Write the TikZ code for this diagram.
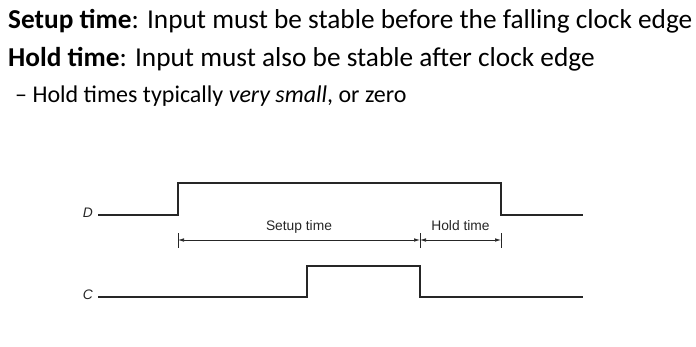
\documentclass[tikz,border=0pt]{standalone}
\usepackage{fontspec}
\setmainfont{Carlito}
\newfontfamily\figfont{Liberation Sans}
\usetikzlibrary{arrows.meta}

\tikzset{
  line/.style={font=\fontsize{27.3}{30}\selectfont, anchor=base west, inner sep=0pt},
  wave/.style={line width=1.4pt, draw=black!85},
  dim/.style={line width=0.6pt, draw=black!85},
  lbl/.style={font=\figfont\fontsize{13.8}{16}\selectfont, text=black!85, inner sep=1pt,
    text height=10pt, text depth=3pt},
}

\begin{document}
\begin{tikzpicture}[x=1pt, y=-1pt, >={Latex[length=6pt,width=3.5pt]}]
  \useasboundingbox (0,0) rectangle (696,346);

  % text above the timing diagram
  \node[line] (setup) at (8,28) {\textbf{Setup time}: Input must be stable before the falling clock edge};
  \node[line] (hold) at (8,66) {\textbf{Hold time}: Input must also be stable after clock edge};
  \node[line, font=\fontsize{24}{27}\selectfont] (note) at (15,102) {-- Hold times typically \textit{very small}, or zero};

  % data input
  \node[lbl, anchor=east] (D) at (94,214) {\textit{D}};
  \draw[wave] (D.east) ++(4,1) -- (178,215) -- (178,183) -- (501,183) -- (501,215) -- (583,215);

  % clock
  \node[lbl, anchor=east] (C) at (94,296) {\textit{C}};
  \draw[wave] (C.east) ++(4,1) -- (307,297) -- (307,266) -- (420,266) -- (420,297) -- (583,297);

  % setup and hold markers
  \coordinate (t0) at (178,240);
  \coordinate (t1) at (420,240);
  \coordinate (t2) at (501,240);
  \foreach \t in {t0,t1,t2}
    \draw[dim] (\t) ++(0,-7) -- ++(0,15);
  \draw[dim, <->] (t0) -- node[lbl, above=5pt] (su) {Setup time} (t1);
  \draw[dim, <->] (t1) -- node[lbl, above=5pt] (ho) {Hold time} (t2);
\end{tikzpicture}
\end{document}
